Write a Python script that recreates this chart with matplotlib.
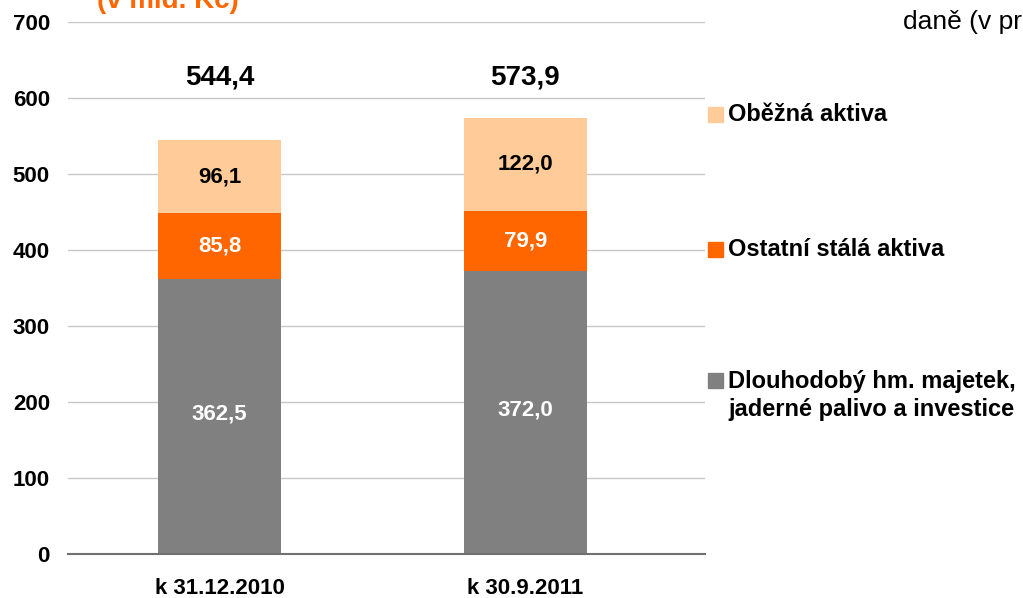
import numpy as np
import matplotlib.pyplot as plt
from matplotlib.patches import Rectangle

plt.rcParams['font.family'] = ['Liberation Sans', 'DejaVu Sans']

# data (v mld. Kc)
kategorie = ['k 31.12.2010', 'k 30.9.2011']
dlouhodoby = np.array([362.5, 372.0])
ostatni = np.array([85.8, 79.9])
obezna = np.array([96.1, 122.0])
celkem = [544.4, 573.9]

nazvy = [['Oběžná aktiva'], ['Ostatní stálá aktiva'],
         ['Dlouhodobý hm. majetek,', 'jaderné palivo a investice']]
barvy = ['#FFCC99', '#FF6600', '#808080']

fig = plt.figure(figsize=(10.23, 5.98), dpi=100)
ax = fig.add_axes([68/1023, 1-554/598, 637/1023, 532/598])

x = np.arange(len(kategorie))
w = 0.40
ax.bar(x, dlouhodoby, w, color=barvy[2], zorder=2)
ax.bar(x, ostatni, w, bottom=dlouhodoby, color=barvy[1], zorder=2)
ax.bar(x, obezna, w, bottom=dlouhodoby+ostatni, color=barvy[0], zorder=2)

def fmt(v):
    return ('%.1f' % v).replace('.', ',')

for i in range(len(x)):
    ax.text(x[i], dlouhodoby[i]/2 + 3, fmt(dlouhodoby[i]), ha='center', va='center',
            color='white', fontsize=16, fontweight='bold', zorder=3)
    ax.text(x[i], dlouhodoby[i] + ostatni[i]/2, fmt(ostatni[i]), ha='center', va='center',
            color='white', fontsize=16, fontweight='bold', zorder=3)
    ax.text(x[i], dlouhodoby[i] + ostatni[i] + obezna[i]/2, fmt(obezna[i]), ha='center',
            va='center', color='black', fontsize=16, fontweight='bold', zorder=3)
    ax.text(x[i], 627, fmt(celkem[i]), ha='center', va='center',
            color='black', fontsize=20, fontweight='bold', zorder=3)

ax.set_xlim(-0.495, 1.587)
ax.set_ylim(0, 700)
ax.set_yticks(np.arange(0, 701, 100))
ax.set_xticks(x)
ax.set_xticklabels(kategorie)
ax.tick_params(axis='both', length=0, labelsize=16)
ax.tick_params(axis='y', pad=13)
ax.tick_params(axis='x', pad=17)
for lab in ax.get_xticklabels() + ax.get_yticklabels():
    lab.set_fontweight('bold')
ax.grid(axis='y', color='#C8C8C8', linewidth=1, zorder=0)
for s in ['left', 'right', 'top']:
    ax.spines[s].set_visible(False)
ax.spines['bottom'].set_color('#707070')
ax.spines['bottom'].set_linewidth(1.5)

# legend (square centre y, text baselines y in pixels)
leg_sq = [114, 249, 380]
leg_base = [[121], [256], [388, 416]]
for radky, barva, sy, baseline in zip(nazvy, barvy, leg_sq, leg_base):
    fig.patches.append(Rectangle((708/1023, 1-(sy+7.5)/598), 15/1023, 15/598,
                                 transform=fig.transFigure, color=barva))
    for radek, by in zip(radky, baseline):
        fig.text(728/1023, 1-by/598, radek, ha='left', va='baseline',
                 fontsize=17, fontweight='bold')

# cut-off texts at top
fig.text(97/1023, 1-8/598, '(v mld. Kč)', ha='left', va='baseline',
         color='#FF6600', fontsize=20, fontweight='bold')
fig.text(903/1023, 1-29/598, 'daně (v pr', ha='left', va='baseline',
         fontsize=19)

fig.savefig('out.png', dpi=100)
